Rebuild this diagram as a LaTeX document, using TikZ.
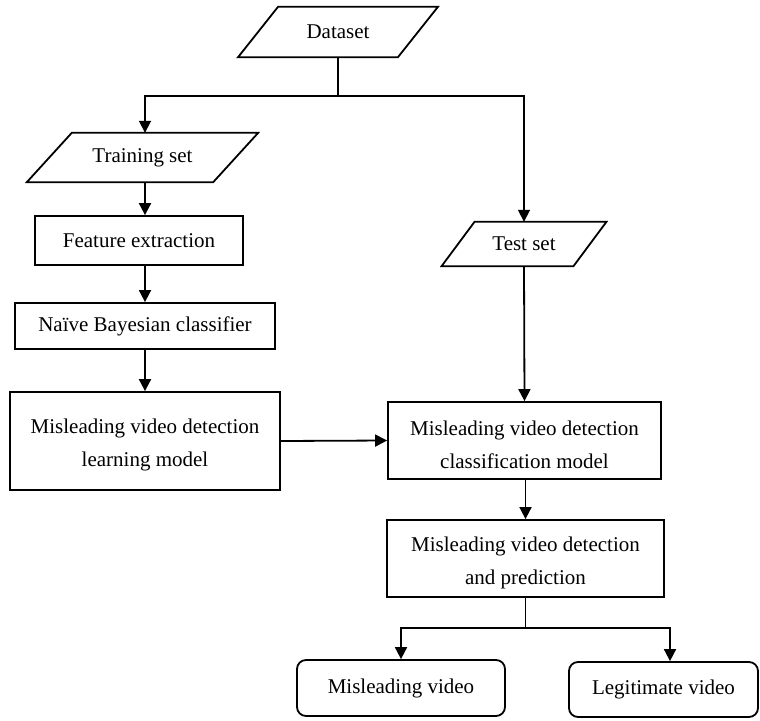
\documentclass[tikz,border=0pt]{standalone}
\usepackage{fontspec}
\setmainfont{Liberation Serif}
\usetikzlibrary{arrows.meta}
\begin{document}
\begin{tikzpicture}[x=1pt,y=-1pt,
  every node/.style={font=\fontsize{21}{33}\selectfont, align=center, inner sep=0pt},
  box/.style={draw, line width=1.8pt, rectangle, minimum width=#1},
  twoline/.style={text height=55.5pt},
  rbox/.style={draw, line width=1.8pt, rectangle, rounded corners=9pt, minimum width=#1},
  pbox/.style={rectangle, minimum width=#1},
  outline/.style={line width=1.8pt, line join=miter},
  arr/.style={line width=1.8pt, -{Triangle[length=12pt,width=12pt]}},
  ln/.style={line width=1.8pt}]
\useasboundingbox (0,0) rectangle (760,720);
% parallelogram nodes (outline drawn below)
\node[pbox=159.5, minimum height=50pt] (ds) at (338,32) {Dataset};
\node[pbox=186, minimum height=49pt] (tr) at (142.5,157.5) {Training set};
\node[pbox=131.5, minimum height=44pt] (te) at (524,244) {Test set};
\foreach \n/\s in {ds/20pt, tr/22.5pt, te/16.5pt}
  \draw[outline] ([xshift=\s]\n.north west) -- ([xshift=\s]\n.north east)
     -- ([xshift=-\s]\n.south east) -- ([xshift=-\s]\n.south west) -- cycle;
% rectangles
\node[box=208, minimum height=49pt] (fe) at (139,240.5) {Feature extraction};
\node[box=260, minimum height=46pt] (nb) at (145,326) {Naïve Bayesian classifier};
\node[box=270, minimum height=98pt, twoline] (lm) at (145,441) {Misleading video detection\\learning model};
\node[box=273, minimum height=77pt, twoline] (cm) at (524.5,440.5) {Misleading video detection\\classification model};
\node[box=277, minimum height=77pt, twoline] (pr) at (525.5,558.5) {Misleading video detection\\and prediction};
\node[rbox=208, minimum height=56pt] (mv) at (401,688) {Misleading video};
\node[rbox=189, minimum height=55pt] (lv) at (663.5,689.5) {Legitimate video};
% junction coordinates
\coordinate (j1) at (338,96);
\coordinate (jl) at (145,96);
\coordinate (jr) at (524,96);
\coordinate (lx) at (145,0);
\coordinate (j2) at (525.5,628);
\coordinate (ml) at (401,628);
\coordinate (mr) at (670,628);
% connectors
\draw[ln] (ds.south) -- (j1);
\draw[arr] (j1) -- (jl) -- (jl |- tr.north);
\draw[arr] (j1) -- (jr) -- (te.north);
\draw[arr] (tr.south -| lx) -- (fe.north -| lx);
\draw[arr] (fe.south -| lx) -- (nb.north -| lx);
\draw[arr] (nb.south -| lx) -- (lm.north -| lx);
\draw[arr] (lm.east) -- (cm.west);
\draw[arr] (te.south) -- (cm.north);
\draw[arr] (cm.south -| pr) -- (pr.north);
\draw[ln] (pr.south) -- (j2);
\draw[arr] (j2) -- (ml) -- (mv.north);
\draw[arr] (j2) -- (mr) -- (mr |- lv.north);
\end{tikzpicture}
\end{document}
